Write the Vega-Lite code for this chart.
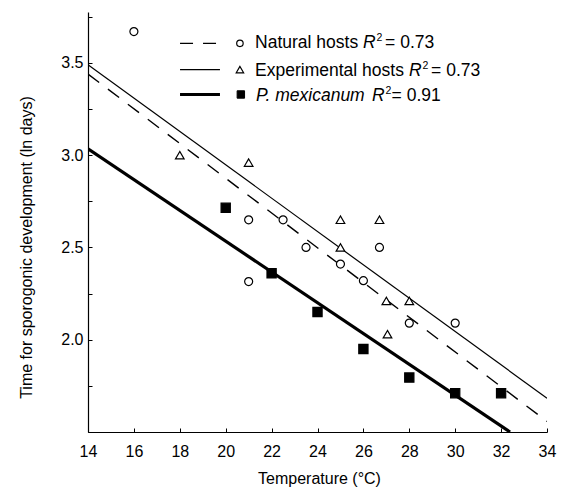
{
  "$schema": "https://vega.github.io/schema/vega-lite/v6.json",
  "width": 459,
  "height": 420,
  "autosize": {"type": "none"},
  "padding": {"left": 88, "top": 12, "right": 18, "bottom": 58},
  "background": "white",
  "config": {
    "view": {"stroke": null},
    "font": "Liberation Sans",
    "axis": {
      "grid": false,
      "domainColor": "black",
      "domainWidth": 1.2,
      "tickColor": "black",
      "tickWidth": 1,
      "tickSize": -4,
      "labelFont": "Liberation Sans",
      "labelFontSize": 16,
      "labelColor": "black",
      "titleFont": "Liberation Sans",
      "titleFontSize": 16,
      "titleFontWeight": "normal",
      "titleColor": "black",
      "labelOverlap": false,
      "labelFlush": false,
      "labelBound": false
    }
  },
  "datasets": {
    "points": [
      {"series": "Natural hosts", "temp": 16, "value": 3.67},
      {"series": "Natural hosts", "temp": 21, "value": 2.65},
      {"series": "Natural hosts", "temp": 22.5, "value": 2.65},
      {"series": "Natural hosts", "temp": 23.5, "value": 2.5},
      {"series": "Natural hosts", "temp": 26.7, "value": 2.5},
      {"series": "Natural hosts", "temp": 25, "value": 2.41},
      {"series": "Natural hosts", "temp": 21, "value": 2.315},
      {"series": "Natural hosts", "temp": 26, "value": 2.32},
      {"series": "Natural hosts", "temp": 28, "value": 2.09},
      {"series": "Natural hosts", "temp": 30, "value": 2.09},
      {"series": "Experimental hosts", "temp": 18, "value": 3.0},
      {"series": "Experimental hosts", "temp": 21, "value": 2.96},
      {"series": "Experimental hosts", "temp": 25, "value": 2.65},
      {"series": "Experimental hosts", "temp": 26.7, "value": 2.65},
      {"series": "Experimental hosts", "temp": 25, "value": 2.5},
      {"series": "Experimental hosts", "temp": 27, "value": 2.21},
      {"series": "Experimental hosts", "temp": 28, "value": 2.21},
      {"series": "Experimental hosts", "temp": 27.05, "value": 2.03},
      {"series": "P. mexicanum", "temp": 20, "value": 2.715},
      {"series": "P. mexicanum", "temp": 22, "value": 2.36},
      {"series": "P. mexicanum", "temp": 24, "value": 2.15},
      {"series": "P. mexicanum", "temp": 26, "value": 1.95},
      {"series": "P. mexicanum", "temp": 28, "value": 1.795},
      {"series": "P. mexicanum", "temp": 30, "value": 1.71},
      {"series": "P. mexicanum", "temp": 32, "value": 1.71}
    ],
    "fits": [
      {"series": "Natural hosts", "temp": 14, "value": 3.44},
      {"series": "Natural hosts", "temp": 34, "value": 1.557},
      {"series": "Experimental hosts", "temp": 14, "value": 3.49},
      {"series": "Experimental hosts", "temp": 34, "value": 1.683},
      {"series": "P. mexicanum", "temp": 14, "value": 3.035},
      {"series": "P. mexicanum", "temp": 32.39, "value": 1.5}
    ]
  },
  "layer": [
    {
      "data": {"name": "fits"},
      "transform": [{"filter": "datum.series === 'Natural hosts'"}],
      "mark": {"type": "line", "color": "black", "strokeWidth": 1.4, "strokeDash": [14, 11], "clip": true},
      "encoding": {
        "x": {
          "field": "temp", "type": "quantitative",
          "scale": {"domain": [14, 34], "nice": false, "zero": false},
          "axis": {
            "title": "Temperature (°C)",
            "values": [14,15,16,17,18,19,20,21,22,23,24,25,26,27,28,29,30,31,32,33,34],
            "labelExpr": "datum.value % 2 === 0 ? datum.label : ''",
            "labelPadding": 15,
            "titleX": 231, "titleY": 51.5, "titleBaseline": "alphabetic", "titleAlign": "center"
          }
        },
        "y": {
          "field": "value", "type": "quantitative",
          "scale": {"domain": [1.5, 3.776], "nice": false, "zero": false},
          "axis": {
            "title": "Time for sporogonic development (ln days)",
            "values": [1.5,1.625,1.75,1.875,2,2.125,2.25,2.375,2.5,2.625,2.75,2.875,3,3.125,3.25,3.375,3.5,3.625,3.75],
            "labelExpr": "datum.value >= 2 && datum.value % 0.5 === 0 ? format(datum.value, '.1f') : ''",
            "labelPadding": 9,
            "titleX": -56.5, "titleY": 235, "titleBaseline": "alphabetic", "titleAngle": -90, "titleAlign": "center"
          }
        }
      }
    },
    {
      "data": {"name": "fits"},
      "transform": [{"filter": "datum.series === 'Experimental hosts'"}],
      "mark": {"type": "line", "color": "black", "strokeWidth": 1.2, "clip": true},
      "encoding": {
        "x": {"field": "temp", "type": "quantitative"},
        "y": {"field": "value", "type": "quantitative"}
      }
    },
    {
      "data": {"name": "fits"},
      "transform": [{"filter": "datum.series === 'P. mexicanum'"}],
      "mark": {"type": "line", "color": "black", "strokeWidth": 3.2, "clip": true},
      "encoding": {
        "x": {"field": "temp", "type": "quantitative"},
        "y": {"field": "value", "type": "quantitative"}
      }
    },
    {
      "data": {"name": "points"},
      "mark": {"type": "point", "stroke": "black", "strokeWidth": 1.2, "opacity": 1},
      "encoding": {
        "x": {"field": "temp", "type": "quantitative"},
        "y": {"field": "value", "type": "quantitative"},
        "shape": {
          "field": "series", "type": "nominal",
          "scale": {"domain": ["Natural hosts", "Experimental hosts", "P. mexicanum"], "range": ["circle", "triangle-up", "square"]},
          "legend": null
        },
        "fill": {
          "field": "series", "type": "nominal",
          "scale": {"domain": ["Natural hosts", "Experimental hosts", "P. mexicanum"], "range": ["white", "white", "black"]},
          "legend": null
        },
        "size": {
          "field": "series", "type": "ordinal",
          "scale": {"domain": ["Natural hosts", "Experimental hosts", "P. mexicanum"], "range": [64, 85, 75]},
          "legend": null
        }
      }
    },
    {
      "data": {"values": [{}]},
      "mark": {"type": "rule", "color": "black", "strokeWidth": 1.4, "strokeDash": [13, 10]},
      "encoding": {"x": {"datum": 18.01}, "x2": {"datum": 19.6}, "y": {"datum": 3.606}}
    },
    {
      "data": {"values": [{}]},
      "mark": {"type": "rule", "color": "black", "strokeWidth": 1.2},
      "encoding": {"x": {"datum": 18.01}, "x2": {"datum": 19.75}, "y": {"datum": 3.464}}
    },
    {
      "data": {"values": [{}]},
      "mark": {"type": "rule", "color": "black", "strokeWidth": 3.2},
      "encoding": {"x": {"datum": 18.01}, "x2": {"datum": 19.75}, "y": {"datum": 3.329}}
    },
    {
      "data": {"values": [{}]},
      "mark": {"type": "point", "shape": "circle", "size": 42, "stroke": "black", "strokeWidth": 1.2, "fill": "white", "opacity": 1},
      "encoding": {"x": {"datum": 20.62}, "y": {"datum": 3.606}}
    },
    {
      "data": {"values": [{}]},
      "mark": {"type": "point", "shape": "triangle-up", "size": 55, "stroke": "black", "strokeWidth": 1.2, "fill": "white", "opacity": 1},
      "encoding": {"x": {"datum": 20.62}, "y": {"datum": 3.464}}
    },
    {
      "data": {"values": [{}]},
      "mark": {"type": "point", "shape": "square", "size": 55, "stroke": "black", "strokeWidth": 1, "fill": "black", "opacity": 1},
      "encoding": {"x": {"datum": 20.66}, "y": {"datum": 3.329}}
    },
    {
      "data": {"values": [{}]},
      "mark": {"type": "text", "text": "Natural hosts", "align": "left", "baseline": "alphabetic", "fontSize": 17.5, "font": "Liberation Sans", "color": "black"},
      "encoding": {"x": {"datum": 21.28}, "y": {"datum": 3.579}}
    },
    {
      "data": {"values": [{}]},
      "mark": {"type": "text", "text": "R", "align": "left", "baseline": "alphabetic", "fontSize": 17.5, "fontStyle": "italic", "font": "Liberation Sans", "color": "black", "dx": 108},
      "encoding": {"x": {"datum": 21.28}, "y": {"datum": 3.579}}
    },
    {
      "data": {"values": [{}]},
      "mark": {"type": "text", "text": "2", "align": "left", "baseline": "alphabetic", "fontSize": 10.5, "font": "Liberation Sans", "color": "black", "dx": 121.5, "dy": -7},
      "encoding": {"x": {"datum": 21.28}, "y": {"datum": 3.579}}
    },
    {
      "data": {"values": [{}]},
      "mark": {"type": "text", "text": "= 0.73", "align": "left", "baseline": "alphabetic", "fontSize": 17.5, "font": "Liberation Sans", "color": "black", "dx": 130},
      "encoding": {"x": {"datum": 21.28}, "y": {"datum": 3.579}}
    },
    {
      "data": {"values": [{}]},
      "mark": {"type": "text", "text": "Experimental hosts", "align": "left", "baseline": "alphabetic", "fontSize": 17.5, "font": "Liberation Sans", "color": "black"},
      "encoding": {"x": {"datum": 21.28}, "y": {"datum": 3.43}}
    },
    {
      "data": {"values": [{}]},
      "mark": {"type": "text", "text": "R", "align": "left", "baseline": "alphabetic", "fontSize": 17.5, "fontStyle": "italic", "font": "Liberation Sans", "color": "black", "dx": 154},
      "encoding": {"x": {"datum": 21.28}, "y": {"datum": 3.43}}
    },
    {
      "data": {"values": [{}]},
      "mark": {"type": "text", "text": "2", "align": "left", "baseline": "alphabetic", "fontSize": 10.5, "font": "Liberation Sans", "color": "black", "dx": 167.5, "dy": -7},
      "encoding": {"x": {"datum": 21.28}, "y": {"datum": 3.43}}
    },
    {
      "data": {"values": [{}]},
      "mark": {"type": "text", "text": "= 0.73", "align": "left", "baseline": "alphabetic", "fontSize": 17.5, "font": "Liberation Sans", "color": "black", "dx": 176},
      "encoding": {"x": {"datum": 21.28}, "y": {"datum": 3.43}}
    },
    {
      "data": {"values": [{}]},
      "mark": {"type": "text", "text": "P. mexicanum", "align": "left", "baseline": "alphabetic", "fontSize": 17.5, "fontStyle": "italic", "font": "Liberation Sans", "color": "black", "dx": 1},
      "encoding": {"x": {"datum": 21.28}, "y": {"datum": 3.296}}
    },
    {
      "data": {"values": [{}]},
      "mark": {"type": "text", "text": "R", "align": "left", "baseline": "alphabetic", "fontSize": 17.5, "fontStyle": "italic", "font": "Liberation Sans", "color": "black", "dx": 117},
      "encoding": {"x": {"datum": 21.28}, "y": {"datum": 3.296}}
    },
    {
      "data": {"values": [{}]},
      "mark": {"type": "text", "text": "2", "align": "left", "baseline": "alphabetic", "fontSize": 10.5, "font": "Liberation Sans", "color": "black", "dx": 130.5, "dy": -7},
      "encoding": {"x": {"datum": 21.28}, "y": {"datum": 3.296}}
    },
    {
      "data": {"values": [{}]},
      "mark": {"type": "text", "text": "= 0.91", "align": "left", "baseline": "alphabetic", "fontSize": 17.5, "font": "Liberation Sans", "color": "black", "dx": 136.5},
      "encoding": {"x": {"datum": 21.28}, "y": {"datum": 3.296}}
    }
  ]
}
